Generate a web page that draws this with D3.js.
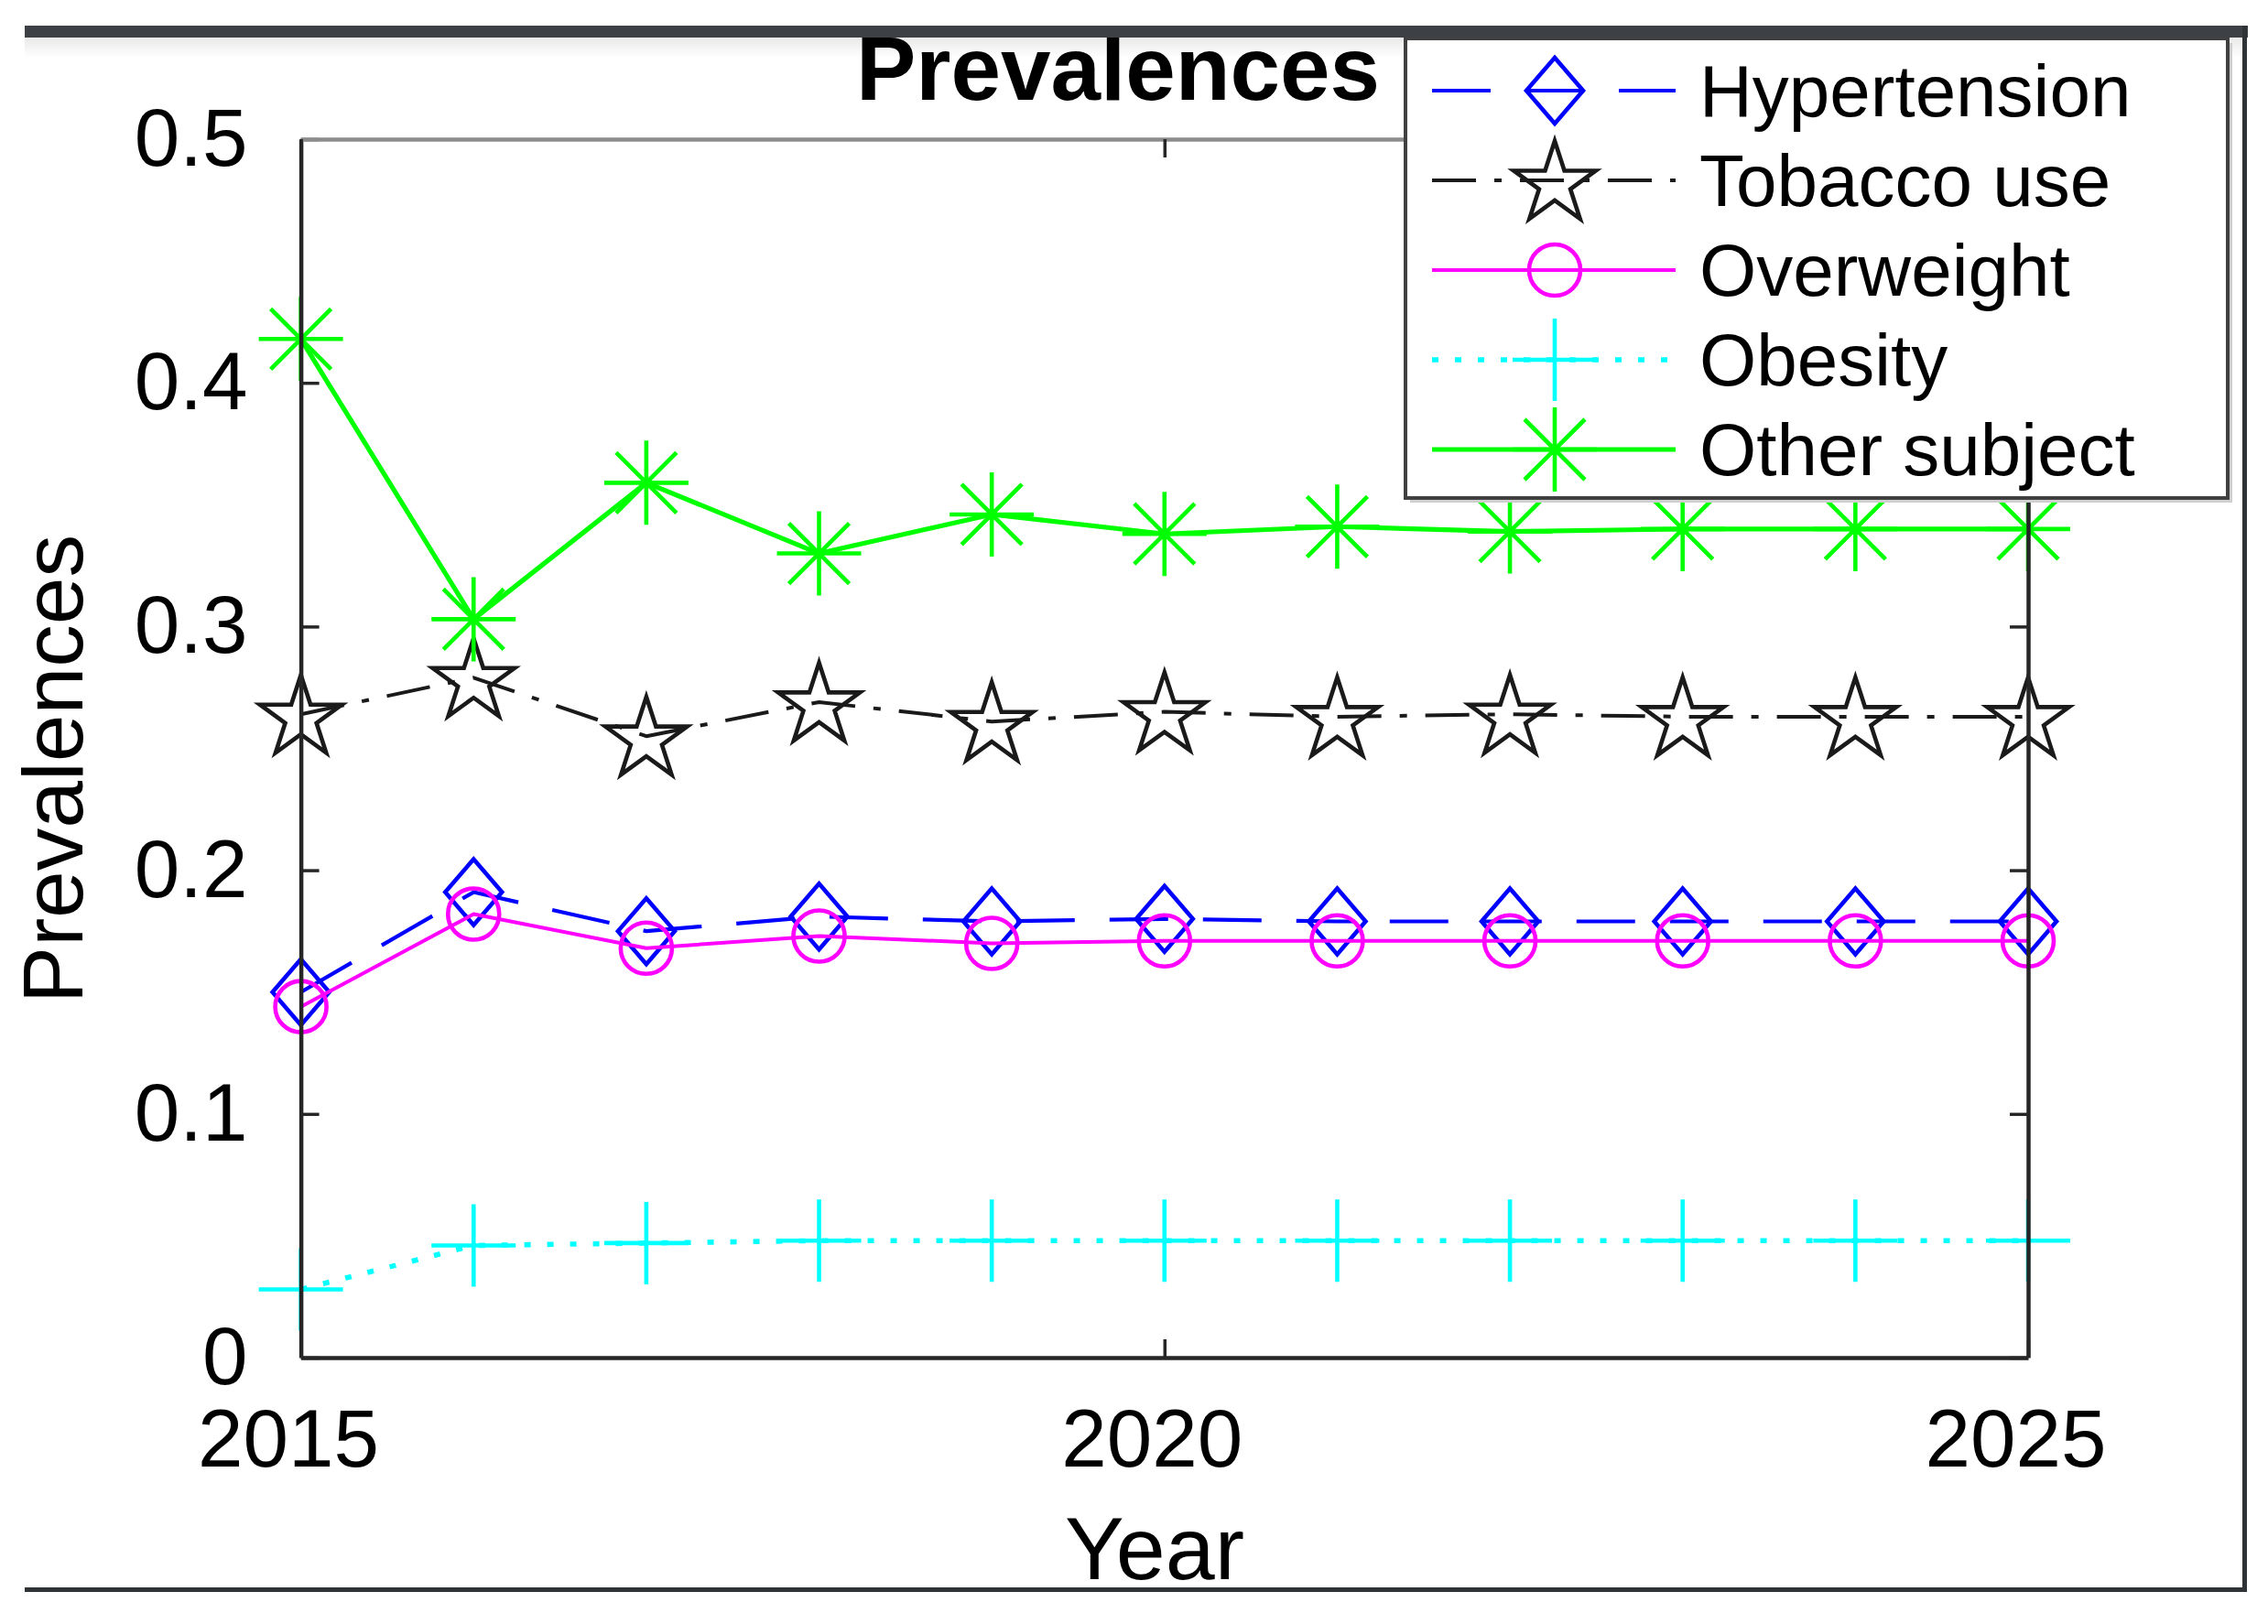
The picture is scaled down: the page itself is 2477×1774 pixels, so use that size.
<!DOCTYPE html>
<html>
<head>
<meta charset="utf-8">
<script src="https://cdn.jsdelivr.net/npm/d3@7"></script>
<style>
  html, body { margin: 0; padding: 0; background: #fff; }
  svg { display: block; }
  text { font-family: "Liberation Sans", Arial, Helvetica, sans-serif; fill: #000; }
</style>
</head>
<body>
<svg id="chart" width="2477" height="1774"></svg>
<script>
// ---------------- data ----------------
const years = [2015, 2016, 2017, 2018, 2019, 2020, 2021, 2022, 2023, 2024, 2025];
const hypertension = [0.150, 0.191, 0.175, 0.181, 0.179, 0.180, 0.179, 0.179, 0.179, 0.179, 0.179];
const tobacco      = [0.264, 0.279, 0.255, 0.269, 0.261, 0.265, 0.263, 0.264, 0.263, 0.263, 0.263];
const overweight   = [0.144, 0.182, 0.168, 0.173, 0.170, 0.171, 0.171, 0.171, 0.171, 0.171, 0.171];
const obesity      = [0.028, 0.046, 0.047, 0.048, 0.048, 0.048, 0.048, 0.048, 0.048, 0.048, 0.048];
const otherSubject = [0.418, 0.303, 0.359, 0.330, 0.346, 0.338, 0.341, 0.339, 0.340, 0.340, 0.340];
const seriesNames  = ["Hypertension", "Tobacco use", "Overweight", "Obesity", "Other subject"];
const xTickValues  = [2015, 2020, 2025];
const xTickLabels  = ["2015", "2020", "2025"];
const yTickValues  = [0, 0.1, 0.2, 0.3, 0.4, 0.5];
const yTickLabels  = ["0", "0.1", "0.2", "0.3", "0.4", "0.5"];
const titleText = "Prevalences";
const xLabelText = "Year";
const yLabelText = "Prevalences";

// ---------------- layout ----------------
const svg = d3.select("#chart");
const L = 328.6, R = 2215, T = 152, B = 1483;
const x = d3.scaleLinear().domain([2015, 2025]).range([L, R]);
const y = d3.scaleLinear().domain([0, 0.5]).range([B, T]);
const FONT = "\"Liberation Sans\", Arial, Helvetica, sans-serif";

svg.append("rect").attr("width", 2477).attr("height", 1774).attr("fill", "#fff");

// outer frame (screenshot border) shadow
const defs = svg.append("defs");
const g1 = defs.append("linearGradient").attr("id", "topShadow").attr("x1", 0).attr("y1", 0).attr("x2", 0).attr("y2", 1);
g1.append("stop").attr("offset", "0%").attr("stop-color", "#e9e9e9");
g1.append("stop").attr("offset", "100%").attr("stop-color", "#ffffff");
svg.append("rect").attr("x", 27).attr("y", 41).attr("width", 2425).attr("height", 22).attr("fill", "url(#topShadow)");

// ---------------- series styles ----------------
const S = 4.6;
const series = [
  { name: seriesNames[0], values: hypertension, color: "#0000ff", dash: "64,38", width: 4.2, marker: "diamond" },
  { name: seriesNames[1], values: tobacco,      color: "#1a1a1a", dash: "48,20,8,20", width: 4.0, marker: "star" },
  { name: seriesNames[2], values: overweight,   color: "#ff00ff", dash: null, width: 4.0, marker: "circle" },
  { name: seriesNames[3], values: obesity,      color: "#00ffff", dash: "7,18", width: 5.6, marker: "plus" },
  { name: seriesNames[4], values: otherSubject, color: "#00ff00", dash: null, width: 5.2, marker: "asterisk" }
];

function markerPath(type) {
  if (type === "diamond") return "M0,-36L31,0L0,36L-31,0Z";
  if (type === "circle") return "M28,0A28,28 0 1,1 -28,0A28,28 0 1,1 28,0Z";
  if (type === "plus") return "M-46,0L46,0M0,-45L0,45";
  if (type === "asterisk") return "M-46,0L46,0M0,-46L0,46M-33,-33L33,33M-33,33L33,-33";
  if (type === "star") {
    const Ro = 47, Ri = Ro * 0.382;
    let p = "";
    for (let i = 0; i < 10; i++) {
      const r = i % 2 === 0 ? Ro : Ri;
      const a = -Math.PI / 2 + i * Math.PI / 5;
      p += (i === 0 ? "M" : "L") + (r * Math.cos(a)).toFixed(2) + "," + (r * Math.sin(a) + 4).toFixed(2);
    }
    return p + "Z";
  }
  return "";
}

const line = d3.line().x((d, i) => x(years[i])).y(d => y(d));

const plot = svg.append("g");
series.forEach(s => {
  plot.append("path")
    .attr("d", line(s.values))
    .attr("fill", "none")
    .attr("stroke", s.color)
    .attr("stroke-width", s.width)
    .attr("stroke-dasharray", s.dash)
    .attr("stroke-linejoin", "round");
  plot.append("g").selectAll("path")
    .data(s.values)
    .join("path")
    .attr("transform", (d, i) => `translate(${x(years[i])},${y(d)})`)
    .attr("d", markerPath(s.marker))
    .attr("fill", "none")
    .attr("stroke", s.color)
    .attr("stroke-width", S);
});

// ---------------- axes ----------------
const axisColor = "#262626";
const gLeft = svg.append("g").attr("transform", `translate(${L},0)`)
  .call(d3.axisLeft(y).tickValues(yTickValues).tickFormat((d, i) => yTickLabels[i]).tickSize(-20).tickSizeOuter(0).tickPadding(58));
const gBottom = svg.append("g").attr("transform", `translate(0,${B})`)
  .call(d3.axisBottom(x).tickValues(xTickValues).tickFormat((d, i) => xTickLabels[i]).tickSize(-20).tickSizeOuter(0).tickPadding(56));
const gRight = svg.append("g").attr("transform", `translate(${R},0)`)
  .call(d3.axisRight(y).tickValues(yTickValues).tickFormat("").tickSize(-20).tickSizeOuter(0));
const gTop = svg.append("g").attr("transform", `translate(0,${T})`)
  .call(d3.axisTop(x).tickValues(xTickValues).tickFormat("").tickSize(-20).tickSizeOuter(0));

[gLeft, gBottom, gRight, gTop].forEach(g => {
  g.select(".domain").attr("stroke", axisColor).attr("stroke-width", 4.5);
  g.selectAll(".tick line").attr("stroke", axisColor).attr("stroke-width", 3.5);
  g.selectAll(".tick text").attr("font-family", FONT).attr("font-size", 89).attr("fill", "#111");
});
gTop.select(".domain").attr("stroke", "#8c8c8c");
gBottom.selectAll(".tick text").attr("dx", -14);

// ---------------- labels ----------------
svg.append("text")
  .attr("x", 1221).attr("y", 109)
  .attr("text-anchor", "middle")
  .attr("font-family", FONT).attr("font-weight", "bold").attr("font-size", 98)
  .text(titleText);

svg.append("text")
  .attr("x", 1261).attr("y", 1725)
  .attr("text-anchor", "middle")
  .attr("font-family", FONT).attr("font-size", 97)
  .attr("fill", "#111")
  .text(xLabelText);

svg.append("text")
  .attr("transform", "translate(90,840) rotate(-90)")
  .attr("text-anchor", "middle")
  .attr("font-family", FONT).attr("font-size", 93)
  .attr("fill", "#111")
  .text(yLabelText);

// ---------------- legend ----------------
const lg = svg.append("g");
lg.append("rect").attr("x", 1540).attr("y", 47).attr("width", 898).attr("height", 502).attr("fill", "#cfcfcf");
lg.append("rect").attr("x", 1535).attr("y", 42).attr("width", 898).attr("height", 502)
  .attr("fill", "#fff").attr("stroke", "#404040").attr("stroke-width", 4);
const rowY = [99, 197, 295, 393, 491];
series.forEach((s, i) => {
  const cy = rowY[i];
  lg.append("line")
    .attr("x1", 1564).attr("x2", 1830).attr("y1", cy).attr("y2", cy)
    .attr("stroke", s.color).attr("stroke-width", s.width)
    .attr("stroke-dasharray", s.dash);
  lg.append("path")
    .attr("transform", `translate(1698,${cy})`)
    .attr("d", markerPath(s.marker))
    .attr("fill", "none").attr("stroke", s.color).attr("stroke-width", S);
  lg.append("text")
    .attr("x", 1856).attr("y", cy + 28)
    .attr("font-family", FONT).attr("font-size", 80)
    .text(s.name);
});

// frame lines on top
svg.append("rect").attr("x", 27).attr("y", 28).attr("width", 2428).attr("height", 13).attr("fill", "#3d4145");
svg.append("rect").attr("x", 2449).attr("y", 28).attr("width", 5).attr("height", 1711).attr("fill", "#303336");
svg.append("rect").attr("x", 27).attr("y", 1734).attr("width", 2427).attr("height", 5).attr("fill", "#303336");
</script>
</body>
</html>
